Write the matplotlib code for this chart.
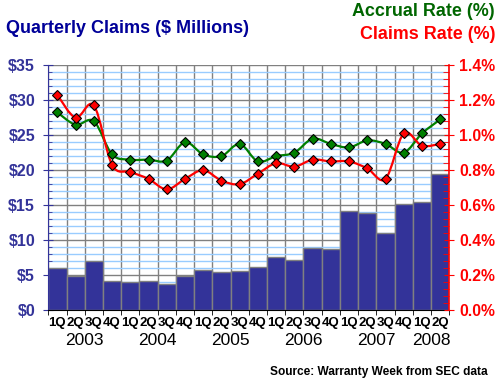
import numpy as np
import matplotlib
matplotlib.use('Agg')
import matplotlib.pyplot as plt
from matplotlib.path import Path
from matplotlib.patches import PathPatch
from matplotlib.ticker import MultipleLocator, FuncFormatter

plt.rcParams['font.family'] = ['Liberation Sans', 'DejaVu Sans']

# data
quarters = ['1Q', '2Q', '3Q', '4Q'] * 5 + ['1Q', '2Q']
years = ['2003', '2004', '2005', '2006', '2007', '2008']
claims_musd = [5.95, 4.86, 7.0, 4.14, 3.95, 4.14, 3.71, 4.9, 5.71, 5.43, 5.57,
               6.1, 7.52, 7.14, 8.86, 8.67, 14.14, 13.86, 11.0, 15.1, 15.38, 19.38]
accrual_rate = [1.13, 1.06, 1.08, 0.89, 0.86, 0.86, 0.855, 0.96, 0.89, 0.88, 0.95,
                0.85, 0.88, 0.90, 0.98, 0.95, 0.93, 0.97, 0.95, 0.90, 1.01, 1.09]
claims_rate = [1.23, 1.10, 1.17, 0.83, 0.79, 0.75, 0.69, 0.75, 0.80, 0.74, 0.72,
               0.78, 0.84, 0.82, 0.86, 0.85, 0.85, 0.81, 0.75, 1.01, 0.94, 0.95]

NAVY = '#333399'
GREEN = '#008000'
RED = '#ff0000'


def smooth_path(x, y):
    """Bezier path through the points (like Excel's smoothed line)"""
    pts = np.column_stack([x, y]).astype(float)
    n = len(pts)
    verts = [pts[0]]
    codes = [Path.MOVETO]
    for i in range(n - 1):
        p0 = pts[max(i - 1, 0)]
        p1 = pts[i]
        p2 = pts[i + 1]
        p3 = pts[min(i + 2, n - 1)]
        c1 = p1 + (p2 - p0) / 6
        c2 = p2 - (p3 - p1) / 6
        verts += [c1, c2, p2]
        codes += [Path.CURVE4] * 3
    return Path(verts, codes)


fig = plt.figure(figsize=(5, 3.8), dpi=100)
ax = fig.add_axes([0.0966, 0.1842, 0.802, 0.644])
x = np.arange(len(claims_musd))

ax.bar(x, claims_musd, width=1.0, color=NAVY, edgecolor='#808080', linewidth=1, zorder=2)
ax.set_xlim(-0.5, len(x) - 0.5)
ax.set_ylim(0, 35)
ax.yaxis.set_major_locator(MultipleLocator(5))
ax.yaxis.set_minor_locator(MultipleLocator(1))
ax.yaxis.set_major_formatter(FuncFormatter(lambda v, p: f'${v:.0f}'))
ax.set_axisbelow(True)
ax.grid(which='minor', axis='y', color='#99ccff', linewidth=1)
ax.grid(which='major', axis='y', color='#808080', linewidth=1)

# x: labels at bar centres, ticks / grid at bar edges
ax.set_xticks(x)
ax.set_xticklabels(quarters, fontsize=9.5, fontweight='bold')
ax.set_xticks(np.arange(len(x) + 1) - 0.5, minor=True)
ax.tick_params(axis='x', which='major', length=0, pad=5)
ax.tick_params(axis='x', which='minor', length=3.5, direction='out', color='black')
ax.grid(which='minor', axis='x', color='#808080', linewidth=1)

ax.tick_params(axis='y', which='major', length=7, direction='inout', color=NAVY,
               labelcolor=NAVY, labelsize=11.5, pad=6)
ax.tick_params(axis='y', which='minor', length=3, direction='in', color=NAVY)
for lab in ax.get_yticklabels():
    lab.set_fontweight('bold')

for s in ['top', 'right']:
    ax.spines[s].set_visible(False)
ax.spines['left'].set_color(NAVY)
ax.spines['bottom'].set_color('black')

year_pos = [1.5, 5.5, 9.5, 13.5, 17.5, 20.5]
for yr, xp in zip(years, year_pos):
    ax.text(xp, -0.125, yr, transform=ax.get_xaxis_transform(), ha='center', va='center',
            fontsize=12.5)

# right axis with rates
ax2 = ax.twinx()
ax2.set_ylim(0, 1.4)
ax2.yaxis.set_major_locator(MultipleLocator(0.2))
ax2.yaxis.set_minor_locator(MultipleLocator(0.04))
ax2.yaxis.set_major_formatter(FuncFormatter(lambda v, p: f'{v:.1f}%'))
ax2.tick_params(axis='y', which='major', length=7, direction='inout', color=RED,
                labelcolor=RED, labelsize=11.3, pad=3.5)
ax2.tick_params(axis='y', which='minor', length=4, direction='in', color=RED)
for lab in ax2.get_yticklabels():
    lab.set_fontweight('bold')
for s in ['top', 'left', 'bottom']:
    ax2.spines[s].set_visible(False)
ax2.spines['right'].set_color(RED)
ax2.spines['right'].set_linewidth(1.2)

for vals, col in [(accrual_rate, GREEN), (claims_rate, RED)]:
    ax2.add_patch(PathPatch(smooth_path(x, vals), facecolor='none', edgecolor=col,
                            linewidth=1.6, zorder=3))
    ax2.plot(x, vals, linestyle='none', marker='D', markersize=5.2, markerfacecolor=col,
             markeredgecolor='black', markeredgewidth=0.8, zorder=4)

fig.text(0.012, 0.926, 'Quarterly Claims ($ Millions)', color='#000099', fontsize=13,
         fontweight='bold', ha='left', va='center')
fig.text(0.99, 0.971, 'Accrual Rate (%)', color='#006600', fontsize=12.9,
         fontweight='bold', ha='right', va='center')
fig.text(0.99, 0.909, 'Claims Rate (%)', color=RED, fontsize=12.9,
         fontweight='bold', ha='right', va='center')
fig.text(0.976, 0.021, 'Source: Warranty Week from SEC data', color='black', fontsize=8.6,
         fontweight='bold', ha='right', va='center')

fig.savefig('out.png', dpi=100)
